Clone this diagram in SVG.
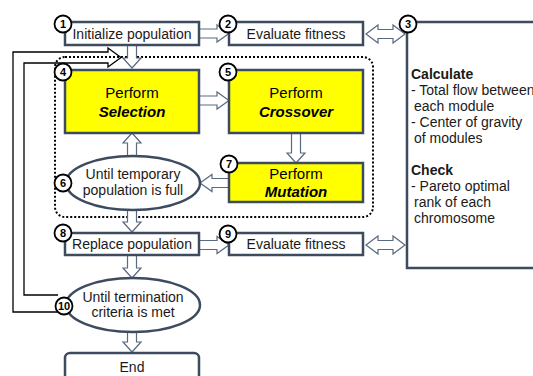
<svg xmlns="http://www.w3.org/2000/svg" width="533" height="376" viewBox="0 0 533 376">
<style>
.box{fill:#fff;stroke:#3d4b5f;stroke-width:2.5}
.yel{fill:#ffff00;stroke:#3d4b5f;stroke-width:2.5}
.arr{fill:#fff;stroke:#5a6a80;stroke-width:1.2;stroke-linejoin:miter}
.num{fill:#fff;stroke:#000;stroke-width:1.8}
.nt{font-family:"Liberation Sans",Arial,sans-serif;font-size:11px;font-weight:bold;text-anchor:middle;fill:#000}
.t{font-family:"Liberation Sans",Arial,sans-serif;font-size:14px;fill:#1a1a1a;text-anchor:middle}
.p{font-family:"Liberation Sans",Arial,sans-serif;font-size:15px;fill:#000;text-anchor:middle}
.bi{font-weight:bold;font-style:italic}
.r{font-family:"Liberation Sans",Arial,sans-serif;font-size:14px;fill:#1a1a1a}
</style>
<rect x="55" y="57" width="318" height="160" rx="10" fill="none" stroke="#000" stroke-width="2" stroke-dasharray="2,2"/>
<g id="connectors">
<path class="arr" d="M199,29 H217 V25 L229,33.5 L217,42 V38 H199 Z"/>
<path class="arr" d="M199,96 H217 V92 L229,100.5 L217,109 V105 H199 Z"/>
<path class="arr" d="M199,240.5 H217 V236.5 L229,245 L217,253.5 V249.5 H199 Z"/>
<path class="arr" d="M229,178.5 H212 V174.5 L200,183 L212,191.5 V187.5 H229 Z"/>
<path class="arr" d="M127.5,45 V58 H123 L132,68 L141,58 H136.5 V45 Z"/>
<path class="arr" d="M127.5,210 V222 H123 L132,232 L141,222 H136.5 V210 Z"/>
<path class="arr" d="M127.5,255 V268 H123 L132,278 L141,268 H136.5 V255 Z"/>
<path class="arr" d="M127.5,332 V342 H123 L132,352 L141,342 H136.5 V332 Z"/>
<path class="arr" d="M291.5,133 V153 H287 L296,163 L305,153 H300.5 V133 Z"/>
<path class="arr" d="M127.5,157 V143 H123 L132,133 L141,143 H136.5 V157 Z"/>
<path class="arr" d="M366,34 L378,25 V29.5 H393 V25 L405,34 L393,43 V38.5 H378 V43 Z"/>
<path class="arr" d="M366,245 L378,236 V240.5 H393 V236 L405,245 L393,254 V249.5 H378 V254 Z"/>
<path d="M58,295 H24 V63 H108 V67 L121,57.5 L108,48 V52 H13 V312 H60" fill="none" stroke="#000" stroke-width="1.3"/>
</g>
<g id="n1"><rect class="box" x="65" y="22" width="134" height="23"/><text class="t" x="132" y="39">Initialize population</text></g>
<g id="n2"><rect class="box" x="229" y="22" width="134" height="23"/><text class="t" x="296" y="39">Evaluate fitness</text></g>
<g id="n3"><rect class="box" x="407" y="22" width="140" height="246"/>
<text class="r" x="411" y="79" font-weight="bold">Calculate</text>
<text class="r" x="411" y="95">- Total flow between</text>
<text class="r" x="414" y="111">each module</text>
<text class="r" x="411" y="127">- Center of gravity</text>
<text class="r" x="414" y="143">of modules</text>
<text class="r" x="411" y="175" font-weight="bold">Check</text>
<text class="r" x="411" y="191">- Pareto optimal</text>
<text class="r" x="414" y="207">rank of each</text>
<text class="r" x="414" y="223">chromosome</text>
</g>
<g id="n4"><rect class="yel" x="65" y="70" width="134" height="63"/><text class="p" x="132" y="98">Perform</text><text class="p bi" x="132" y="117">Selection</text></g>
<g id="n5"><rect class="yel" x="229" y="70" width="134" height="63"/><text class="p" x="296" y="98">Perform</text><text class="p bi" x="296" y="117">Crossover</text></g>
<g id="n7"><rect class="yel" x="229" y="163" width="134" height="39"/><text class="p" x="296" y="179">Perform</text><text class="p bi" x="296" y="197">Mutation</text></g>
<g id="n6"><ellipse class="box" cx="133" cy="183" rx="67" ry="27"/><text class="t" x="133" y="179">Until temporary</text><text class="t" x="133" y="195">population is full</text></g>
<g id="n8"><rect class="box" x="65" y="233" width="134" height="22"/><text class="t" x="132" y="249">Replace population</text></g>
<g id="n9"><rect class="box" x="229" y="233" width="134" height="22"/><text class="t" x="296" y="249">Evaluate fitness</text></g>
<g id="n10"><ellipse class="box" cx="133" cy="305" rx="67" ry="27"/><text class="t" x="133" y="302">Until termination</text><text class="t" x="133" y="317">criteria is met</text></g>
<g id="n11"><rect class="box" x="65" y="353" width="134" height="30" rx="5"/><text class="t" x="132" y="372">End</text></g>
<g id="badges">
<circle class="num" cx="63" cy="24" r="8.5"/><text class="nt" x="63" y="28">1</text>
<circle class="num" cx="228" cy="24" r="8.5"/><text class="nt" x="228" y="28">2</text>
<circle class="num" cx="408" cy="24" r="8.5"/><text class="nt" x="408" y="28">3</text>
<circle class="num" cx="63" cy="72" r="8.5"/><text class="nt" x="63" y="76">4</text>
<circle class="num" cx="228" cy="72" r="8.5"/><text class="nt" x="228" y="76">5</text>
<circle class="num" cx="63" cy="183" r="8.5"/><text class="nt" x="63" y="187">6</text>
<circle class="num" cx="229" cy="164" r="8.5"/><text class="nt" x="229" y="168">7</text>
<circle class="num" cx="63" cy="233" r="8.5"/><text class="nt" x="63" y="237">8</text>
<circle class="num" cx="228" cy="234" r="8.5"/><text class="nt" x="228" y="238">9</text>
<circle class="num" cx="64" cy="306" r="8.5"/><text class="nt" x="64" y="310">10</text>
</g>
</svg>
